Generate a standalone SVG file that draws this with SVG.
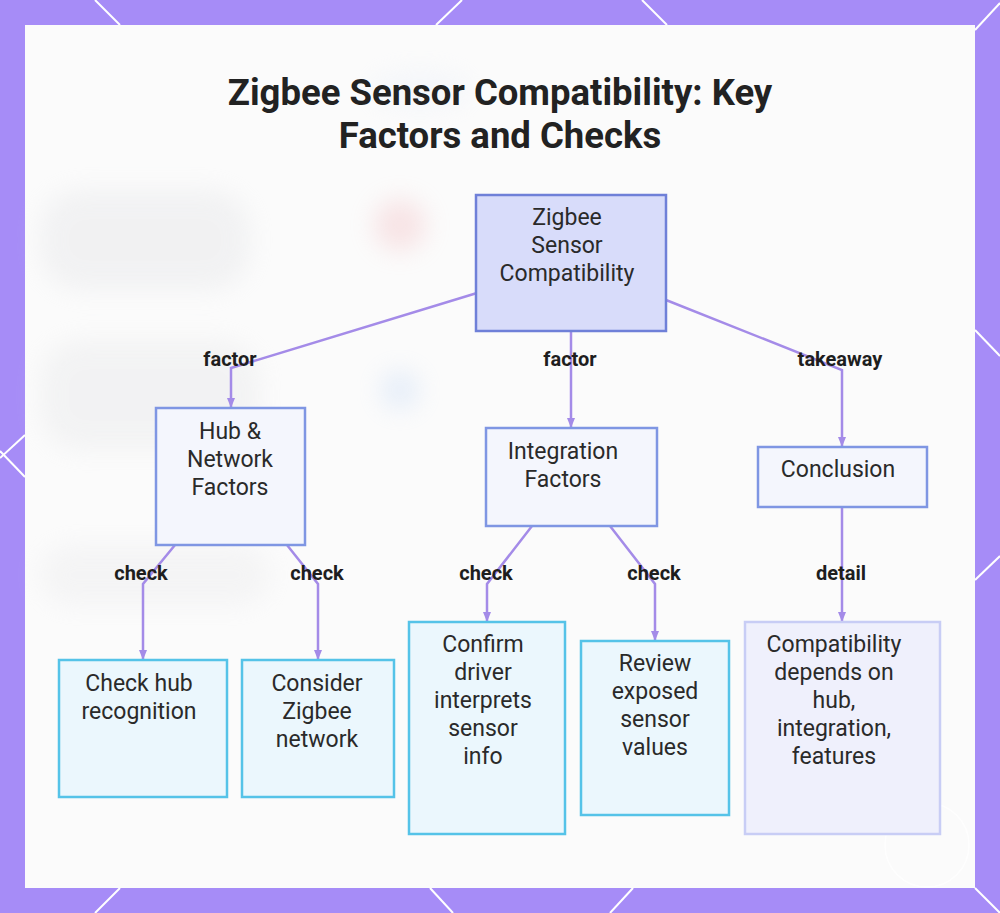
<svg xmlns="http://www.w3.org/2000/svg" width="1000" height="913" viewBox="0 0 1000 913">
<defs>
<style>
.title{font-family:Roboto,"Liberation Sans",sans-serif;font-weight:700;font-size:36.5px;fill:#222;text-anchor:middle}
.nt{font-family:Roboto,"Liberation Sans",sans-serif;font-size:23px;fill:#2a2a2a;text-anchor:middle}
.lbl{font-family:Roboto,"Liberation Sans",sans-serif;font-weight:700;font-size:20px;fill:#1e1e1e;text-anchor:middle}
.edge{fill:none;stroke:#a48be8;stroke-width:2.5}
.deco{stroke:#ffffff;stroke-width:2;fill:none}
.root{fill:#d8dcfa;stroke:#6f80d8;stroke-width:2.5}
.mid{fill:#f4f6fd;stroke:#7f96e3;stroke-width:2.5}
.leaf{fill:#ebf7fd;stroke:#55c3e8;stroke-width:2.5}
.end{fill:#eff0fc;stroke:#c8cdf5;stroke-width:2.5}
</style>
<marker id="arr" viewBox="0 0 10 10" refX="9" refY="5" markerWidth="4" markerHeight="4" orient="auto">
<path d="M0,1 L10,5 L0,9 z" fill="#a48be8"/>
</marker>
<filter id="blur" x="-50%" y="-50%" width="200%" height="200%"><feGaussianBlur stdDeviation="12"/></filter>
</defs>
<rect x="0" y="0" width="1000" height="913" fill="#a68cf7"/>
<g class="deco">
<line x1="95" y1="0" x2="120" y2="25"/>
<line x1="462" y1="0" x2="436" y2="25"/>
<line x1="642" y1="0" x2="667" y2="25"/>
<line x1="1000" y1="3" x2="975" y2="30"/>
<line x1="25" y1="435" x2="0" y2="458"/>
<line x1="0" y1="451" x2="25" y2="477"/>
<line x1="975" y1="330" x2="1000" y2="356"/>
<line x1="975" y1="580" x2="1000" y2="556"/>
<line x1="120" y1="888" x2="95" y2="913"/>
<line x1="430" y1="888" x2="453" y2="913"/>
<line x1="633" y1="888" x2="610" y2="913"/>
<line x1="975" y1="888" x2="1000" y2="913"/>
</g>
<rect x="25" y="25" width="950" height="863" fill="#fbfbfb"/>
<g filter="url(#blur)" opacity="0.35">
<rect x="40" y="190" width="210" height="100" rx="40" fill="#e0e1e4"/>
<rect x="40" y="340" width="220" height="110" rx="40" fill="#e3e4e6"/>
<rect x="40" y="545" width="230" height="60" rx="30" fill="#e8e8ea"/>
<circle cx="400" cy="225" r="26" fill="#f1b9be"/>
<circle cx="400" cy="390" r="20" fill="#c3d8f5"/>
<ellipse cx="420" cy="90" rx="50" ry="20" fill="#e8eef8"/>
</g>
<circle cx="927" cy="845" r="42" fill="none" stroke="#ffffff" stroke-width="1.5" opacity="0.8"/>
<text class="title" x="500" y="105">Zigbee Sensor Compatibility: Key</text>
<text class="title" x="500" y="148">Factors and Checks</text>
<g id="connectors">
<polyline class="edge" points="477,293 231,368 231,407" marker-end="url(#arr)"/>
<polyline class="edge" points="571,331 571,427" marker-end="url(#arr)"/>
<polyline class="edge" points="666,300 842,370 842,446" marker-end="url(#arr)"/>
<polyline class="edge" points="175,545 143,584 143,659" marker-end="url(#arr)"/>
<polyline class="edge" points="287,545 318,584 318,659" marker-end="url(#arr)"/>
<polyline class="edge" points="532,526 487,584 487,621" marker-end="url(#arr)"/>
<polyline class="edge" points="610,526 655,584 655,640" marker-end="url(#arr)"/>
<polyline class="edge" points="842,507 842,621" marker-end="url(#arr)"/>
<text class="lbl" x="230" y="366">factor</text>
<text class="lbl" x="570" y="366">factor</text>
<text class="lbl" x="840" y="366">takeaway</text>
<text class="lbl" x="141" y="580">check</text>
<text class="lbl" x="317" y="580">check</text>
<text class="lbl" x="486" y="580">check</text>
<text class="lbl" x="654" y="580">check</text>
<text class="lbl" x="841" y="580">detail</text>
</g>
<g id="root">
<rect class="root" x="476" y="195" width="190" height="136"/>
<text class="nt" x="567" y="225">Zigbee</text>
<text class="nt" x="567" y="253">Sensor</text>
<text class="nt" x="567" y="281">Compatibility</text>
</g>
<g id="hub">
<rect class="mid" x="156" y="408" width="149" height="137"/>
<text class="nt" x="230" y="439">Hub &amp;</text>
<text class="nt" x="230" y="467">Network</text>
<text class="nt" x="230" y="495">Factors</text>
</g>
<g id="integration">
<rect class="mid" x="486" y="428" width="171" height="98"/>
<text class="nt" x="563" y="459">Integration</text>
<text class="nt" x="563" y="487">Factors</text>
</g>
<g id="conclusion">
<rect class="mid" x="758" y="447" width="169" height="60"/>
<text class="nt" x="838" y="477">Conclusion</text>
</g>
<g id="checkhub">
<rect class="leaf" x="59" y="660" width="168" height="137"/>
<text class="nt" x="139" y="691">Check hub</text>
<text class="nt" x="139" y="719">recognition</text>
</g>
<g id="consider">
<rect class="leaf" x="242" y="660" width="152" height="137"/>
<text class="nt" x="317" y="691">Consider</text>
<text class="nt" x="317" y="719">Zigbee</text>
<text class="nt" x="317" y="747">network</text>
</g>
<g id="confirm">
<rect class="leaf" x="409" y="622" width="156" height="212"/>
<text class="nt" x="483" y="652">Confirm</text>
<text class="nt" x="483" y="680">driver</text>
<text class="nt" x="483" y="708">interprets</text>
<text class="nt" x="483" y="736">sensor</text>
<text class="nt" x="483" y="764">info</text>
</g>
<g id="review">
<rect class="leaf" x="581" y="641" width="148" height="174"/>
<text class="nt" x="655" y="671">Review</text>
<text class="nt" x="655" y="699">exposed</text>
<text class="nt" x="655" y="727">sensor</text>
<text class="nt" x="655" y="755">values</text>
</g>
<g id="compat">
<rect class="end" x="745" y="622" width="195" height="212"/>
<text class="nt" x="834" y="652">Compatibility</text>
<text class="nt" x="834" y="680">depends on</text>
<text class="nt" x="834" y="708">hub,</text>
<text class="nt" x="834" y="736">integration,</text>
<text class="nt" x="834" y="764">features</text>
</g>
</svg>
